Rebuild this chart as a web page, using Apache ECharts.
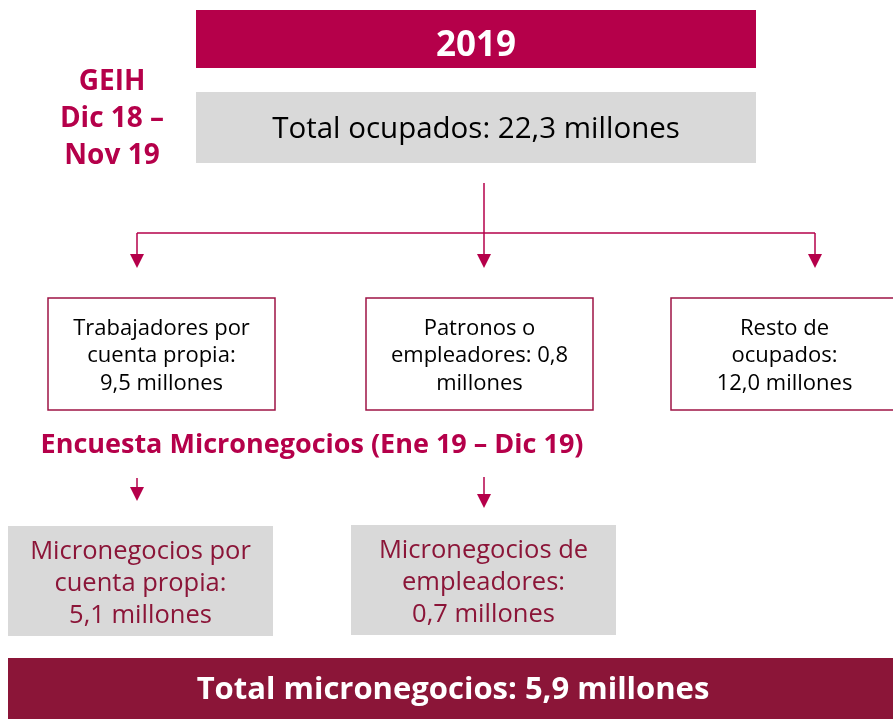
<!DOCTYPE html>
<html><head><meta charset="utf-8">
<script src="https://cdn.jsdelivr.net/npm/echarts@6/dist/echarts.min.js"></script>
<style>html,body{margin:0;padding:0;background:#fff}#c{width:893px;height:719px}</style>
</head><body><div id="c"></div>
<script>
// ---- data ----
const yearLabel = '2019';
const sourceLabel = ['GEIH', 'Dic 18 –', 'Nov 19'];
const totalOcupados = 22.3;
const groupTemplates = ['Trabajadores por\ncuenta propia:\n{v} millones', 'Patronos o\nempleadores: {v}\nmillones', 'Resto de\nocupados:\n{v} millones'];
const groupValues = [9.5, 0.8, 12.0];
const surveyLabel = 'Encuesta Micronegocios (Ene 19 – Dic 19)';
const microTemplates = ['Micronegocios por\ncuenta propia:\n{v} millones', 'Micronegocios de\nempleadores:\n{v} millones'];
const microValues = [5.1, 0.7];
const totalMicro = 5.9;

const fmt = v => v.toFixed(1).replace('.', ',');
const CR = '#B5004A', DK = '#8B1538', BORDER = '#9E1446';
const F = '"Open Sans", sans-serif';

function vline(x, y1, y2) {
  return {type: 'line', shape: {x1: x, y1: y1, x2: x, y2: y2}, style: {stroke: CR, lineWidth: 1.5}};
}
function arrow(x, y1, y2) {
  return [vline(x, y1, y2 - 10), {type: 'polygon', shape: {points: [[x - 7, y2 - 14], [x + 7, y2 - 14], [x, y2]]}, style: {fill: CR}}];
}
function txt(x, y, t, size, fill, weight, lh) {
  return {type: 'text', style: {x: x, y: y, text: t, fill: fill, align: 'center', verticalAlign: 'middle',
    font: (weight || 'normal') + ' ' + size + 'px ' + F, lineHeight: lh || size * 1.3}};
}

const g = [];
// top bar
g.push({type: 'rect', shape: {x: 196, y: 10, width: 560, height: 58}, style: {fill: CR}});
g.push(txt(476, 46, yearLabel, 35, '#fff', 'bold'));
// source label
g.push(txt(112, 119, sourceLabel.join('\n'), 28, CR, 'bold', 37));
// total ocupados box
g.push({type: 'rect', shape: {x: 196, y: 92, width: 560, height: 71}, style: {fill: '#D9D9D9'}});
g.push(txt(476, 130, 'Total ocupados: ' + fmt(totalOcupados) + ' millones', 29.5, '#000'));
// connectors
g.push(vline(484, 183, 233));
g.push({type: 'line', shape: {x1: 137, y1: 233, x2: 815, y2: 233}, style: {stroke: CR, lineWidth: 1.5}});
const gx = [137, 484, 815];
gx.forEach(x => g.push(...arrow(x, 233, 268)));
// group boxes
const boxX = [48, 366, 671];
groupValues.forEach((v, i) => {
  g.push({type: 'rect', shape: {x: boxX[i], y: 298, width: 227, height: 112}, style: {fill: '#fff', stroke: BORDER, lineWidth: 1.5}});
  g.push(txt(boxX[i] + 113.5, 356, groupTemplates[i].replace('{v}', fmt(v)), 22, '#000', 'normal', 27.5));
});
// survey label
g.push(txt(312, 445, surveyLabel, 27, CR, 'bold'));
// micro arrows
g.push(...arrow(137, 478, 501));
g.push(...arrow(484, 477, 508));
// micro boxes
const mX = [8, 351], mY = [526, 525];
microValues.forEach((v, i) => {
  g.push({type: 'rect', shape: {x: mX[i], y: mY[i], width: 265, height: 110}, style: {fill: '#D9D9D9'}});
  g.push(txt(mX[i] + 132.5, mY[i] + 58, microTemplates[i].replace('{v}', fmt(v)), 25.5, DK, 'normal', 32));
});
// bottom bar
g.push({type: 'rect', shape: {x: 8, y: 658, width: 885, height: 61}, style: {fill: DK}});
g.push(txt(453, 690, 'Total micronegocios: ' + fmt(totalMicro) + ' millones', 31, '#fff', 'bold'));

const chart = echarts.init(document.getElementById('c'), null, {renderer: 'canvas'});
chart.setOption({animation: false, graphic: g});
</script></body></html>
